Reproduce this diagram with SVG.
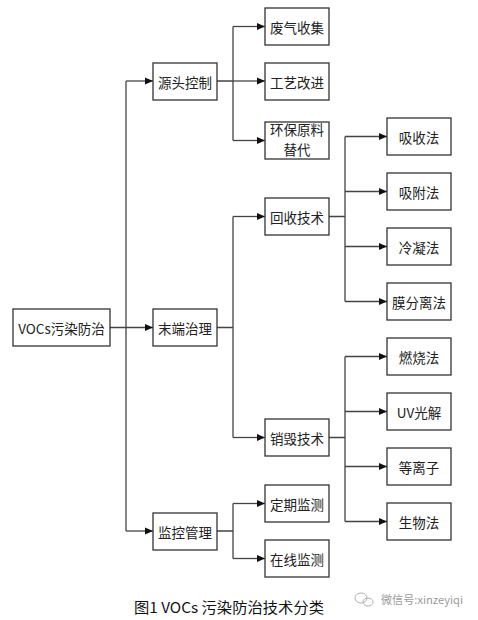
<svg xmlns="http://www.w3.org/2000/svg" width="478" height="620" viewBox="0 0 478 620">
<defs>
<style>
.box{fill:#fff;stroke:#333;stroke-width:1.3}
.t{font-family:"Noto Sans CJK SC","Liberation Serif",serif;font-size:13.5px;fill:#222;text-anchor:middle;dominant-baseline:central}
.ln{fill:none;stroke:#444;stroke-width:1.3}
.cap{font-family:"Noto Sans CJK SC","Liberation Serif",serif;font-size:14.5px;fill:#111}
.wm{font-family:"Noto Sans CJK SC","Liberation Sans",sans-serif;font-size:11px;fill:#9a9a9a}
</style>
<marker id="ar" markerUnits="userSpaceOnUse" markerWidth="8" markerHeight="8" refX="8" refY="4" orient="auto">
<path d="M0,0.5 L8,4 L0,7.5 z" fill="#111"/>
</marker>
</defs>
<rect width="478" height="620" fill="#fff"/>
<g id="connectors">
<path class="ln" d="M110,327.5 H153" marker-end="url(#ar)"/>
<path class="ln" d="M126,81 V531"/>
<path class="ln" d="M126,81 H153" marker-end="url(#ar)"/>
<path class="ln" d="M126,531 H153" marker-end="url(#ar)"/>
<path class="ln" d="M217,81 H233 M233,26.5 V140.5"/>
<path class="ln" d="M233,26.5 H265" marker-end="url(#ar)"/>
<path class="ln" d="M233,81 H265" marker-end="url(#ar)"/>
<path class="ln" d="M233,140.5 H265" marker-end="url(#ar)"/>
<path class="ln" d="M217,327.5 H233 M233,216.5 V437.5"/>
<path class="ln" d="M233,216.5 H265" marker-end="url(#ar)"/>
<path class="ln" d="M233,437.5 H265" marker-end="url(#ar)"/>
<path class="ln" d="M329,216.5 H345 M345,136.5 V301.5"/>
<path class="ln" d="M345,136.5 H387" marker-end="url(#ar)"/>
<path class="ln" d="M345,191.5 H387" marker-end="url(#ar)"/>
<path class="ln" d="M345,246.5 H387" marker-end="url(#ar)"/>
<path class="ln" d="M345,301.5 H387" marker-end="url(#ar)"/>
<path class="ln" d="M329,437.5 H345 M345,356.5 V521.5"/>
<path class="ln" d="M345,356.5 H387" marker-end="url(#ar)"/>
<path class="ln" d="M345,411.5 H387" marker-end="url(#ar)"/>
<path class="ln" d="M345,466.5 H387" marker-end="url(#ar)"/>
<path class="ln" d="M345,521.5 H387" marker-end="url(#ar)"/>
<path class="ln" d="M217,531 H233 M233,503.5 V558.5"/>
<path class="ln" d="M233,503.5 H265" marker-end="url(#ar)"/>
<path class="ln" d="M233,558.5 H265" marker-end="url(#ar)"/>
</g>
<g id="root"><rect class="box" x="13" y="309" width="97" height="37"/><text class="t" x="61.5" y="327.5">VOCs污染防治</text></g>
<g id="n-yuantou"><rect class="box" x="153" y="63" width="64" height="37"/><text class="t" x="185" y="81.5">源头控制</text></g>
<g id="n-moduan"><rect class="box" x="153" y="309" width="64" height="37"/><text class="t" x="185" y="327.5">末端治理</text></g>
<g id="n-jiankong"><rect class="box" x="153" y="513" width="64" height="37"/><text class="t" x="185" y="531.5">监控管理</text></g>
<g id="n-feiqi"><rect class="box" x="265" y="8" width="64" height="37"/><text class="t" x="297" y="26.5">废气收集</text></g>
<g id="n-gongyi"><rect class="box" x="265" y="63" width="64" height="37"/><text class="t" x="297" y="81.5">工艺改进</text></g>
<g id="n-huanbao"><rect class="box" x="265" y="122" width="64" height="37"/><text class="t" x="297" y="128.5">环保原料</text><text class="t" x="297" y="148.5">替代</text></g>
<g id="n-huishou"><rect class="box" x="265" y="198" width="64" height="37"/><text class="t" x="297" y="216.5">回收技术</text></g>
<g id="n-xiaohui"><rect class="box" x="265" y="419" width="64" height="37"/><text class="t" x="297" y="437.5">销毁技术</text></g>
<g id="n-dingqi"><rect class="box" x="265" y="485" width="64" height="37"/><text class="t" x="297" y="503.5">定期监测</text></g>
<g id="n-zaixian"><rect class="box" x="265" y="540" width="64" height="37"/><text class="t" x="297" y="558.5">在线监测</text></g>
<g id="n-xishou"><rect class="box" x="387" y="118" width="64" height="37"/><text class="t" x="419" y="136.5">吸收法</text></g>
<g id="n-xifu"><rect class="box" x="387" y="173" width="64" height="37"/><text class="t" x="419" y="191.5">吸附法</text></g>
<g id="n-lengning"><rect class="box" x="387" y="228" width="64" height="37"/><text class="t" x="419" y="246.5">冷凝法</text></g>
<g id="n-mofenli"><rect class="box" x="387" y="283" width="64" height="37"/><text class="t" x="419" y="301.5">膜分离法</text></g>
<g id="n-ranshao"><rect class="box" x="387" y="338" width="64" height="37"/><text class="t" x="419" y="356.5">燃烧法</text></g>
<g id="n-uv"><rect class="box" x="387" y="393" width="64" height="37"/><text class="t" x="419" y="411.5">UV光解</text></g>
<g id="n-dengli"><rect class="box" x="387" y="448" width="64" height="37"/><text class="t" x="419" y="466.5">等离子</text></g>
<g id="n-shengwu"><rect class="box" x="387" y="503" width="64" height="37"/><text class="t" x="419" y="521.5">生物法</text></g>
<text class="cap" x="134" y="613" textLength="190" lengthAdjust="spacingAndGlyphs">图1 VOCs 污染防治技术分类</text>
<g id="watermark" fill="none" stroke="#b0b0b0" stroke-width="1">
<ellipse cx="361" cy="598" rx="6" ry="5"/>
<ellipse cx="368" cy="602" rx="5" ry="4"/>
</g>
<text class="wm" x="381" y="604" textLength="82" lengthAdjust="spacingAndGlyphs">微信号:xinzeyiqi</text>
</svg>
